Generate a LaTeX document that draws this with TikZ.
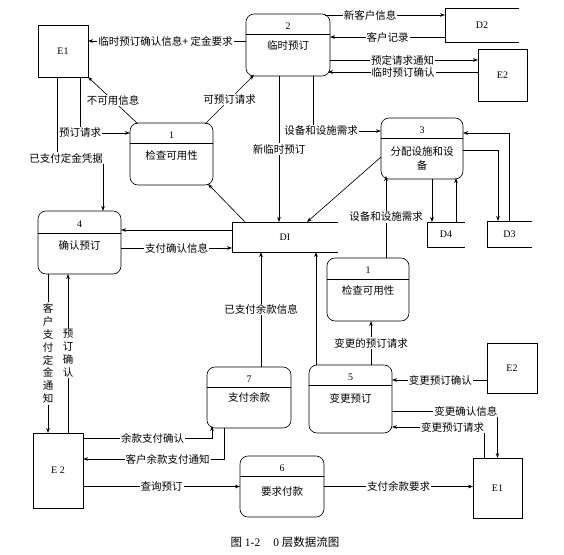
\documentclass[tikz,border=0pt]{standalone}
\usepackage{fontspec}
\setmainfont{Liberation Serif}
\newfontfamily\cjk{Noto Sans CJK SC}
\usetikzlibrary{arrows.meta,calc}
\tikzset{
  proc/.style={draw, rounded corners=8pt, inner sep=0pt, outer sep=0pt},
  ent/.style={draw, inner sep=0pt, outer sep=0pt, font=\fontsize{10}{12}\selectfont},
  store/.style={inner sep=0pt, outer sep=0pt, font=\fontsize{10}{12}\selectfont},
  numf/.style={inner sep=0pt, font=\fontsize{10}{12}\selectfont},
  txt/.style={inner sep=0pt, align=center, font=\cjk\fontsize{10.5}{14}\selectfont},
  lbl/.style={fill=white, inner sep=1pt, font=\cjk\fontsize{10.5}{12}\selectfont},
  vlbl/.style={fill=white, inner sep=1pt, align=center, font=\cjk\fontsize{10.5}{12.9}\selectfont},
  arr/.style={-{Stealth[length=5pt,width=3.6pt]}},
}
\newcommand\procbox[9]{%
  \node[proc, minimum width=#4pt, minimum height=#5pt, anchor=north] (#1) at (#2,#3) {};
  \draw ($(#1.north west)+(0,#8)$) -- ($(#1.north east)+(0,#8)$);
  \node[numf] at ($(#1.north)+(0,#8/2+2)$) {#6};
  \node[txt] at ($(#1.north)+(0,#9)$) {#7};
}
\begin{document}
\begin{tikzpicture}[x=1pt,y=-1pt,line width=0.65pt]
\fill[white] (0,0) rectangle (564,554);
\useasboundingbox (0,0) rectangle (564,554);

% processes
\procbox{p1a}{171.5}{123}{83}{62}{1}{检查可用性}{20}{32}
\procbox{p2}{288}{14}{84}{62}{2}{临时预订}{20}{31}
\procbox{p3}{422}{118}{82}{61}{3}{分配设施和设\\备}{20}{41}
\procbox{p4}{79.5}{211}{83}{63}{4}{确认预订}{22}{34}
\procbox{p1b}{368}{258}{82}{63}{1}{检查可用性}{21}{32}
\procbox{p5}{350.5}{365}{83}{68}{5}{变更预订}{20}{33}
\procbox{p7}{249}{367}{84}{61}{7}{支付余款}{20}{30}
\procbox{p6}{282}{456}{84}{61}{6}{要求付款}{20}{36}

% external entities
\node[ent, minimum width=50pt, minimum height=52pt] (E1a) at (63,51) {E1};
\node[ent, minimum width=49pt, minimum height=52pt] (E2a) at (502.5,75) {E2};
\node[ent, minimum width=50pt, minimum height=50pt] (E2b) at (512,368) {E2};
\node[ent, minimum width=50pt, minimum height=75pt] (E2c) at (58,470.5) {E 2};
\node[ent, minimum width=49pt, minimum height=60pt] (E1b) at (497.5,488) {E1};

% data stores
\node[store, minimum width=74pt, minimum height=34pt] (D2) at (482,25) {D2};
\draw (D2.north east) -- (D2.north west) -- (D2.south west) -- (D2.south east);
\node[store, minimum width=106pt, minimum height=30pt] (DI) at (285,237) {DI};
\draw (DI.north east) -- (DI.north west) -- (DI.south west) -- (DI.south east);
\node[store, minimum width=38pt, minimum height=25pt] (D4) at (446,234.5) {D4};
\draw (D4.north east) -- (D4.north west) -- (D4.south west) -- (D4.south east);
\node[store, minimum width=45pt, minimum height=26pt] (D3) at (509.5,234) {D3};
\draw (D3.north east) -- (D3.north west) -- (D3.south west) -- (D3.south east);

% flows
\draw[arr] (p2.west |- 0,41) -- (E1a.east |- 0,41) node[lbl,pos=0.51]{临时预订确认信息+ 定金要求};
\draw[arr] ($(p2.north east)+(-5,1)$) -- (D2.west |- 0,15) node[lbl,pos=0.375]{新客户信息};
\draw[arr] (D2.west |- 0,37) -- (p2.east |- 0,37) node[lbl,pos=0.5]{客户记录};
\draw[arr] (p2.east |- 0,60) -- (E2a.west |- 0,60) node[lbl,pos=0.49]{预定请求通知};
\draw[arr] (E2a.west |- 0,72) -- ($(p2.east |- 0,72)+(-2,0)$) node[lbl,pos=0.5]{临时预订确认};
\draw[arr] ($(p1a.north west)+(8,1)$) -- (E1a.south east) node[lbl,pos=0.5]{不可用信息};
\draw[arr] ($(p1a.north east)+(-8,1)$) -- ($(p2.south west)+(8,-1)$) node[lbl,pos=0.5]{可预订请求};
\draw[arr] ($(E1a.south east)+(-8,0)$) |- ($(p1a.west)+(0,-21)$) node[lbl,pos=0.5]{预订请求};
\draw[arr] ($(E1a.south west)+(19,0)$) |- ($(p4.north east)+(-18,-53)$) node[lbl,pos=0.6]{已支付定金凭据} -- ($(p4.north east)+(-18,0)$);
\draw[arr] (DI.west |- 0,230) -- (p4.east |- 0,230);
\draw[arr] (p4.east |- 0,248) -- (DI.west |- 0,248) node[lbl,pos=0.5]{支付确认信息};
\draw[arr] ($(DI.north west)+(13,0)$) -- ($(p1a.south east)+(-5,-1)$);
\draw[arr] ($(p2.south)+(-9,0)$) coordinate (c13) -- (c13 |- DI.north) node[lbl,pos=0.5]{新临时预订};
\draw[arr] ($(p2.south east)+(-17,0)$) |- (p3.west |- 0,131) node[lbl,pos=0.56]{设备和设施需求};
\draw[arr] (p3.west |- 0,157) -- ($(DI.north west)+(75,0)$);
\draw[arr] ($(p1b.north east)+(-23,0)$) coordinate (c16) -- ($(c16 |- p3.south)+(0,-3)$) node[lbl,pos=0.5]{设备和设施需求};
\draw[arr] ($(p3.south)+(10,0)$) coordinate (c17) -- (c17 |- D4.north);
\draw[arr] ($(D4.north east)+(-9,0)$) coordinate (c18) -- ($(c18 |- p3.south)+(0,-1)$);
\draw[arr] (p3.east |- 0,150) -| ($(D3.north west)+(11,0)$);
\draw[arr] ($(D3.north west)+(22,0)$) |- (p3.east |- 0,133);
\draw[arr] ($(p5.north)+(20.5,0)$) coordinate (c21) -- (c21 |- p1b.south) node[lbl,pos=0.5]{变更的预订请求};
\draw[arr] ($(p5.north west)+(7,0)$) coordinate (c22) -- (c22 |- DI.south);
\draw[arr] ($(p7.north)+(12,0)$) coordinate (c23) -- (c23 |- DI.south) node[lbl,pos=0.5]{已支付余款信息};
\draw[arr] ($(p4.south west)+(10,0)$) coordinate (c24) -- (c24 |- E2c.north) node[vlbl,pos=0.5]{客\\户\\支\\付\\定\\金\\通\\知};
\draw[arr] ($(E2c.north east)+(-15,0)$) coordinate (c25) -- (c25 |- p4.south) node[vlbl,pos=0.5]{预\\订\\确\\认};
\draw[arr] (E2c.east |- 0,438) -| ($(p7.south west)+(5,-2)$) node[lbl,pos=0.27]{余款支付确认};
\draw[arr] ($(p7.south west)+(17,0)$) |- (E2c.east |- 0,459) node[lbl,pos=0.7]{客户余款支付通知};
\draw[arr] (E2c.east |- p6.west) -- (p6.west) node[lbl,pos=0.5]{查询预订};
\draw[arr] (p6.east) -- (E1b.west |- p6.east) node[lbl,pos=0.5]{支付余款要求};
\draw[arr] (E2b.west |- 0,380) -- (p5.east |- 0,380) node[lbl,pos=0.49]{变更预订确认};
\draw[arr] (p5.east |- 0,411) -| (E1b.north) node[lbl,pos=0.35]{变更确认信息};
\draw[arr] ($(E1b.north west)+(11,0)$) |- (p5.east |- 0,427) node[lbl,pos=0.67]{变更预订请求};

% caption
\node[inner sep=0pt, font=\fontsize{11.5}{13}\selectfont] (cap) at (285,542) {{\cjk 图} 1-2\hspace{13pt}0 {\cjk 层数据流图}};
\end{tikzpicture}
\end{document}
